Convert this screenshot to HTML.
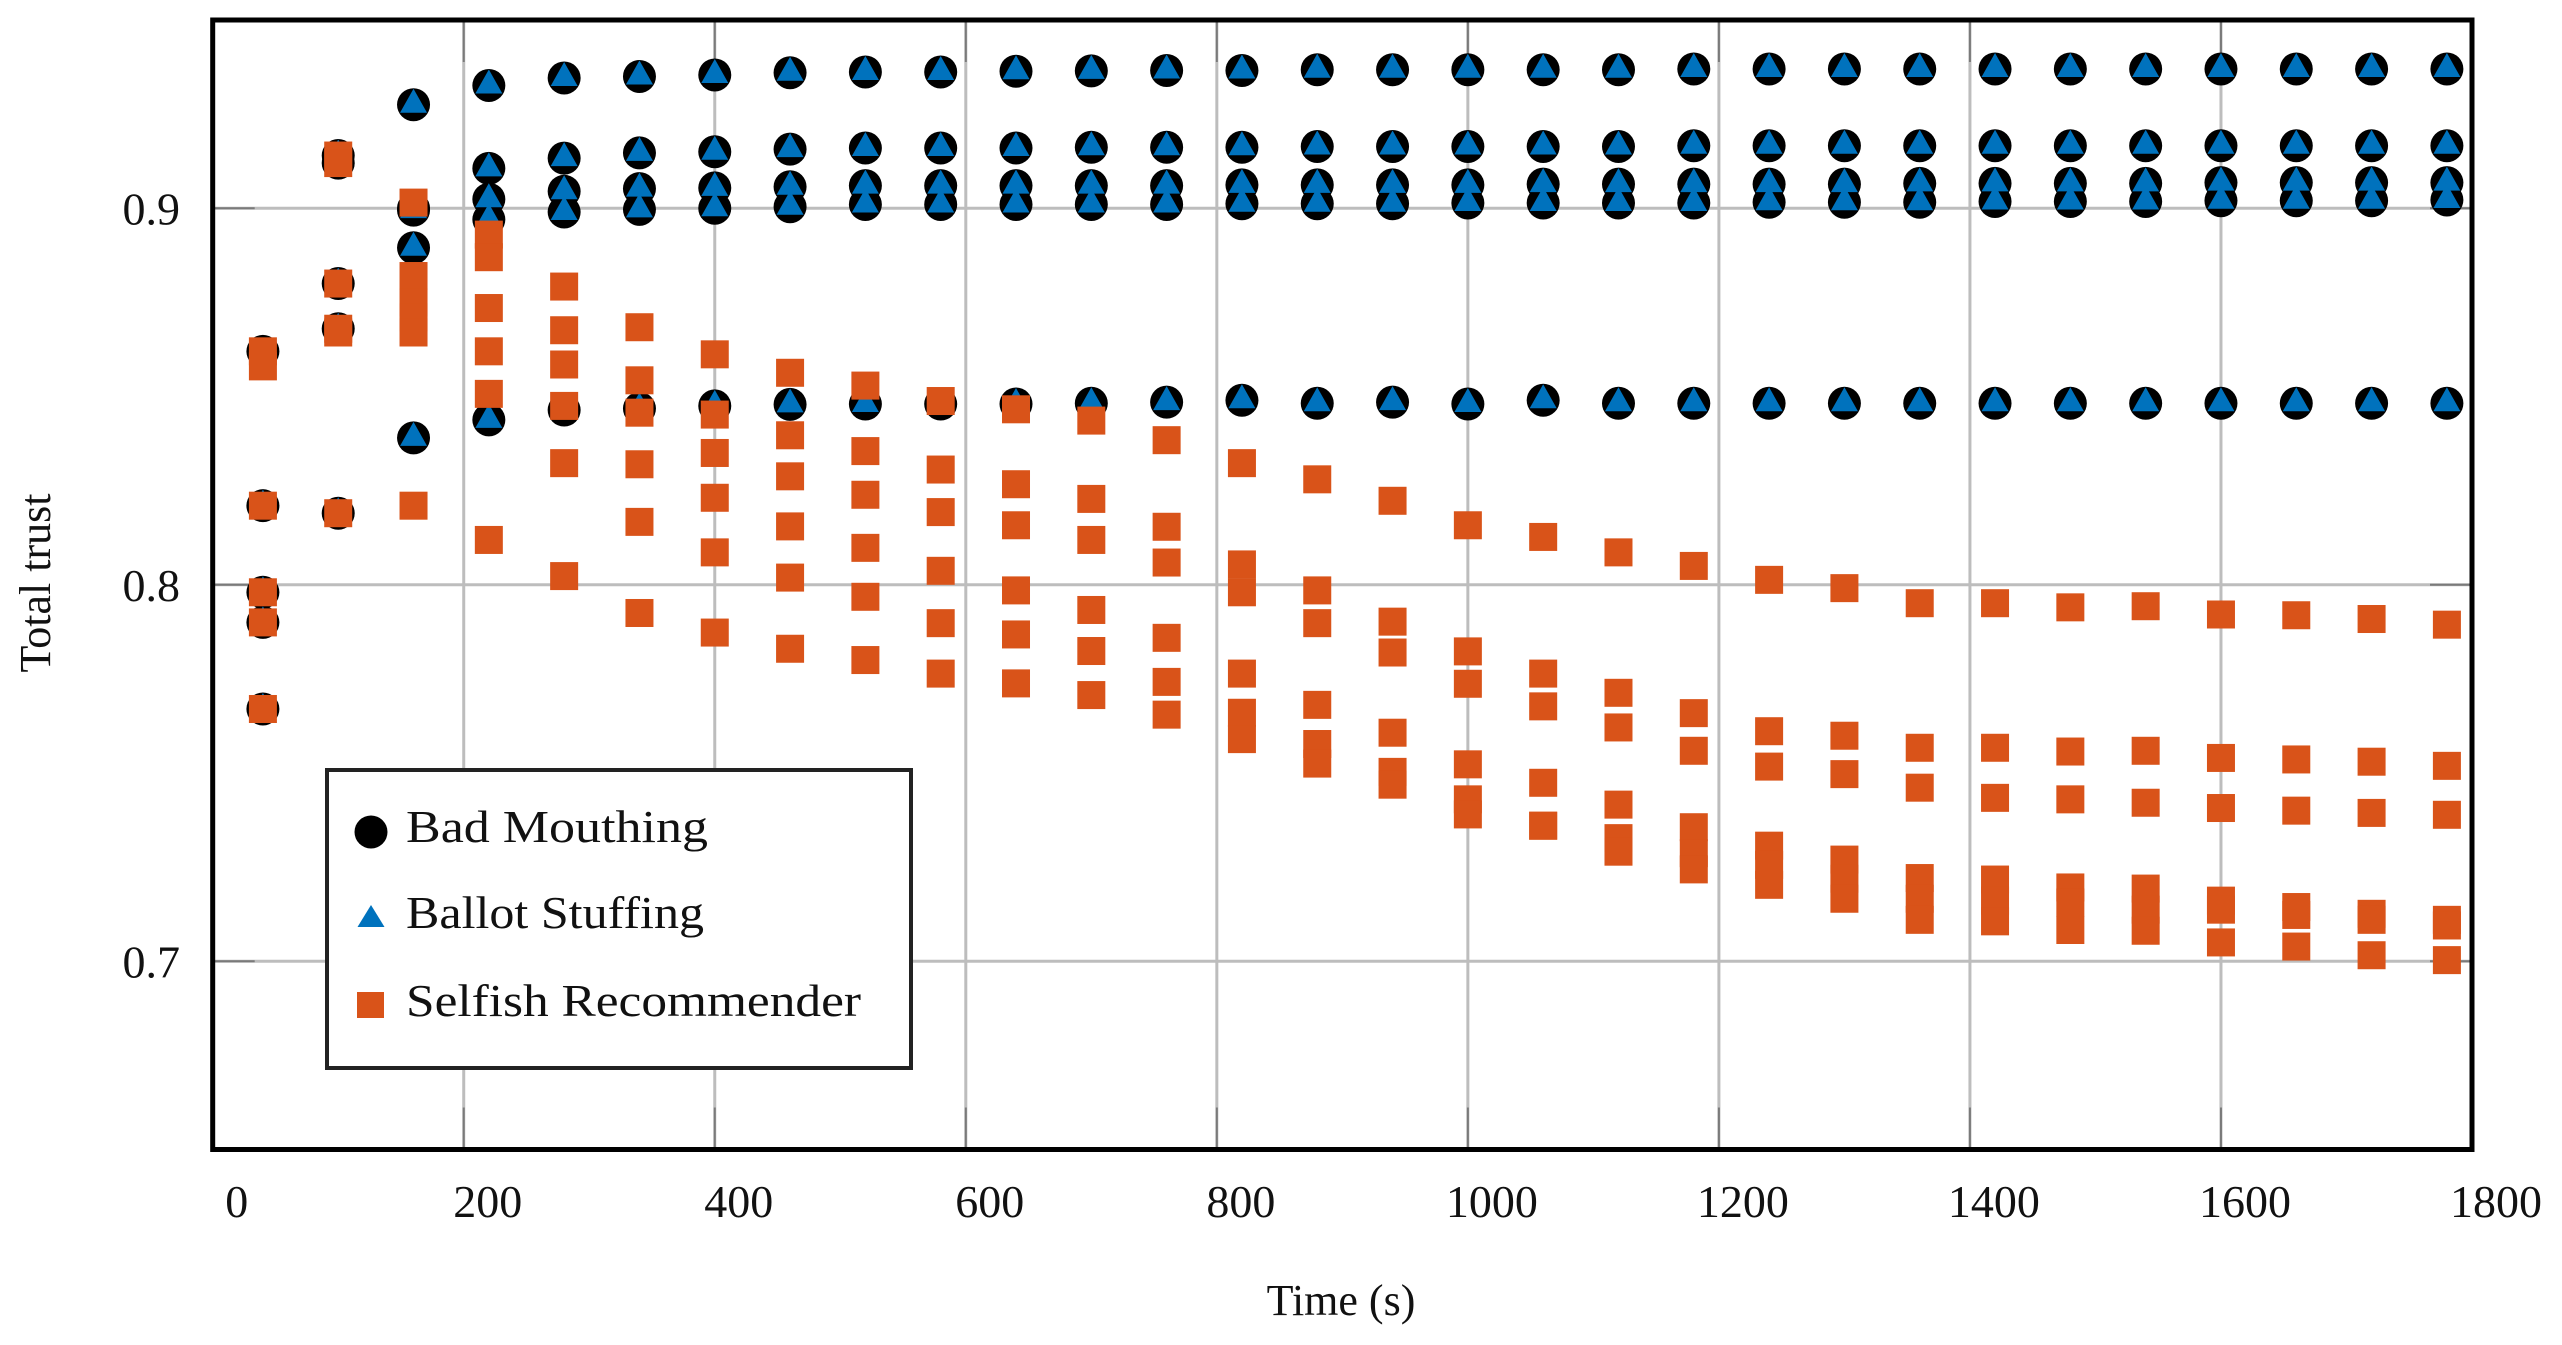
<!DOCTYPE html>
<html><head><meta charset="utf-8"><style>
html,body{margin:0;padding:0;background:#fff;}
svg{display:block;}
text{font-family:"Liberation Serif",serif;fill:#111;}
</style></head><body>
<svg id="chart" width="2562" height="1345" viewBox="0 0 2562 1345" xmlns="http://www.w3.org/2000/svg">
<g id="grid"></g>
<g id="ticks"></g>
<g id="marks"></g>
<rect x="212.7" y="20" width="2259.3" height="1129.5" fill="none" stroke="#000" stroke-width="5"/>
<g id="labels"></g>
<text x="1341" y="1315" font-size="44" text-anchor="middle">Time (s)</text>
<text x="0" y="0" font-size="44" text-anchor="middle" transform="translate(50,583) rotate(-90)">Total trust</text>
<g>
<rect x="327" y="770" width="584" height="298" fill="#fff" stroke="#222" stroke-width="4"/>
<g>
<circle cx="371" cy="832" r="16.5" fill="#000"/>
<text x="406" y="842" font-size="46" textLength="302" lengthAdjust="spacingAndGlyphs">Bad Mouthing</text></g>
<g>
<polygon points="371,905 357.5,927 384.5,927" fill="#0072BD"/>
<text x="406" y="928" font-size="46" textLength="298" lengthAdjust="spacingAndGlyphs">Ballot Stuffing</text></g>
<g>
<rect x="357" y="992" width="27" height="26" fill="#D95319"/>
<text x="406" y="1016" font-size="46" textLength="455" lengthAdjust="spacingAndGlyphs">Selfish Recommender</text></g>
</g>
</svg>
<script>
const times = [40,100,160,220,280,340,400,460,520,580,640,700,760,820,880,940,1000,1060,1120,1180,1240,1300,1360,1420,1480,1540,1600,1660,1720,1780];
const xTicks = [0,200,400,600,800,1000,1200,1400,1600,1800];
const yTicks = [0.7,0.8,0.9];
const yTickLabels = ["0.7","0.8","0.9"];
const badMouthing = [
[0.862,0.821,0.798,0.790,0.767],[0.914,0.912,0.880,0.868,0.819],[0.9275,0.900,0.8995,0.8895,0.839],
[0.9326,0.9106,0.9024,0.897,0.8438],[0.9346,0.9133,0.9045,0.899,0.8464],[0.935,0.9147,0.9052,0.8997,0.8468],
[0.9354,0.915,0.9054,0.900,0.8475],[0.936,0.9157,0.9057,0.9004,0.8479],[0.9362,0.916,0.906,0.901,0.848],
[0.9362,0.916,0.906,0.901,0.848],[0.9364,0.916,0.906,0.901,0.848],[0.9365,0.9162,0.906,0.901,0.8482],
[0.9366,0.9162,0.906,0.901,0.8485],[0.9366,0.9162,0.9062,0.9012,0.849],[0.9368,0.9164,0.9062,0.9012,0.8482],
[0.9368,0.9164,0.9062,0.9012,0.8485],[0.9368,0.9164,0.9062,0.9014,0.848],[0.9368,0.9164,0.9064,0.9014,0.849],
[0.9368,0.9164,0.9064,0.9014,0.8482],[0.937,0.9166,0.9064,0.9014,0.8482],[0.937,0.9166,0.9064,0.9016,0.8482],
[0.937,0.9166,0.9064,0.9016,0.8482],[0.937,0.9166,0.9066,0.9016,0.8482],[0.937,0.9166,0.9066,0.9018,0.8482],
[0.937,0.9166,0.9066,0.9018,0.8482],[0.937,0.9166,0.9066,0.9018,0.8482],[0.937,0.9166,0.9068,0.902,0.8482],
[0.937,0.9166,0.9068,0.902,0.8482],[0.937,0.9166,0.9068,0.902,0.8482],[0.937,0.9166,0.9068,0.9022,0.8482]];
const ballotStuffing = [
[0.858,0.821,0.798,0.790,0.767],[0.914,0.912,0.880,0.868,0.819],[0.9275,0.900,0.8995,0.8895,0.839],
[0.9326,0.9106,0.9024,0.897,0.8438],[0.9346,0.9133,0.9045,0.899,0.8464],[0.935,0.9147,0.9052,0.8997,0.8468],
[0.9354,0.915,0.9054,0.900,0.8475],[0.936,0.9157,0.9057,0.9004,0.8479],[0.9362,0.916,0.906,0.901,0.848],
[0.9362,0.916,0.906,0.901,0.848],[0.9364,0.916,0.906,0.901,0.848],[0.9365,0.9162,0.906,0.901,0.8482],
[0.9366,0.9162,0.906,0.901,0.8485],[0.9366,0.9162,0.9062,0.9012,0.849],[0.9368,0.9164,0.9062,0.9012,0.8482],
[0.9368,0.9164,0.9062,0.9012,0.8485],[0.9368,0.9164,0.9062,0.9014,0.848],[0.9368,0.9164,0.9064,0.9014,0.849],
[0.9368,0.9164,0.9064,0.9014,0.8482],[0.937,0.9166,0.9064,0.9014,0.8482],[0.937,0.9166,0.9064,0.9016,0.8482],
[0.937,0.9166,0.9064,0.9016,0.8482],[0.937,0.9166,0.9066,0.9016,0.8482],[0.937,0.9166,0.9066,0.9018,0.8482],
[0.937,0.9166,0.9066,0.9018,0.8482],[0.937,0.9166,0.9066,0.9018,0.8482],[0.937,0.9166,0.9068,0.902,0.8482],
[0.937,0.9166,0.9068,0.902,0.8482],[0.937,0.9166,0.9068,0.902,0.8482],[0.937,0.9166,0.9068,0.9022,0.8482]];
const selfishRecommender = [
[0.862,0.858,0.821,0.798,0.790,0.767],[0.914,0.912,0.880,0.868,0.867,0.819],[0.9015,0.882,0.875,0.871,0.867,0.821],
[0.893,0.887,0.8735,0.862,0.8507,0.8119],[0.8792,0.8676,0.8585,0.8475,0.8323,0.8023],[0.8684,0.8543,0.8457,0.832,0.8167,0.7925],
[0.8612,0.8452,0.835,0.8231,0.8086,0.7873],[0.8563,0.8397,0.8288,0.8155,0.8019,0.783],[0.8529,0.8355,0.8239,0.8098,0.7968,0.78],
[0.8488,0.8306,0.8193,0.8037,0.7898,0.7764],[0.8466,0.8267,0.8158,0.7985,0.7868,0.7738],[0.8436,0.8228,0.8119,0.7933,0.7824,0.7707],
[0.8384,0.8154,0.8059,0.7859,0.7742,0.7655],[0.8323,0.8054,0.798,0.7764,0.766,0.759],[0.828,0.7985,0.7898,0.7681,0.7577,0.7525],
[0.8223,0.7902,0.782,0.7607,0.7503,0.7469],[0.8158,0.7823,0.7737,0.7523,0.743,0.739],[0.8127,0.7764,0.7677,0.7474,0.736,0.736],
[0.8086,0.7713,0.7621,0.7416,0.7327,0.7291],[0.805,0.7659,0.7559,0.7356,0.7287,0.7244],[0.8013,0.7611,0.7517,0.7307,0.7256,0.7203],
[0.7991,0.7599,0.7497,0.727,0.7219,0.7166],[0.7951,0.7567,0.7461,0.7221,0.7166,0.711],[0.7951,0.7567,0.7434,0.7217,0.7161,0.7106],
[0.794,0.7557,0.743,0.7196,0.7156,0.7083],[0.7943,0.7559,0.7421,0.7193,0.7137,0.7081],[0.7921,0.754,0.7407,0.7161,0.7137,0.705],
[0.7919,0.7536,0.74,0.7144,0.7123,0.7039],[0.7909,0.753,0.7394,0.7126,0.711,0.7016],[0.7894,0.7519,0.7389,0.711,0.7095,0.7003]];

const NS = "http://www.w3.org/2000/svg";
const L = 212.7, R = 2472, T = 20, B = 1149.5;
const xMin = 0, xMax = 1800, yMin = 0.65, yMax = 0.95;
const xs = v => L + (v - xMin) / (xMax - xMin) * (R - L);
const ys = v => B - (v - yMin) / (yMax - yMin) * (B - T);
function mk(tag, attrs, parent) {
  const e = document.createElementNS(NS, tag);
  for (const k in attrs) e.setAttribute(k, attrs[k]);
  parent.appendChild(e);
  return e;
}
const grid = document.getElementById('grid');
const ticks = document.getElementById('ticks');
const labels = document.getElementById('labels');
const marks = document.getElementById('marks');
xTicks.forEach(v => {
  const x = xs(v);
  if (v > xMin && v < xMax) {
    const g = mk('line', {x1: x, x2: x, y1: T, y2: B, stroke: '#bdbdbd', 'stroke-width': 3}, grid);
    
    
    mk('line', {x1: x, x2: x, y1: T, y2: T + 42, stroke: '#7a7a7a', 'stroke-width': 2}, ticks);
    mk('line', {x1: x, x2: x, y1: B - 42, y2: B, stroke: '#7a7a7a', 'stroke-width': 2}, ticks);
  }
  const t = mk('text', {x: x + 24, y: 1217, 'font-size': 46, 'text-anchor': 'middle'}, labels);
  
  
  t.textContent = String(v);
});
yTicks.forEach((v, i) => {
  const y = ys(v);
  const g = mk('line', {x1: L, x2: R, y1: y, y2: y, stroke: '#bdbdbd', 'stroke-width': 3}, grid);
  
  
  mk('line', {x1: L, x2: L + 42, y1: y, y2: y, stroke: '#7a7a7a', 'stroke-width': 2}, ticks);
  mk('line', {x1: R - 42, x2: R, y1: y, y2: y, stroke: '#7a7a7a', 'stroke-width': 2}, ticks);
  const t = mk('text', {x: 180, y: y + 16, 'font-size': 46, 'text-anchor': 'end'}, labels);
  
  
  t.textContent = yTickLabels[i];
});
times.forEach((tm, i) => {
  const x = xs(tm);
  badMouthing[i].forEach(v => {
    const c = mk('circle', {cx: x, cy: ys(v), r: 16.5, fill: '#000'}, marks);
    
    
  });
});
times.forEach((tm, i) => {
  const x = xs(tm);
  ballotStuffing[i].forEach(v => {
    const y = ys(v);
    const p = mk('polygon', {points: `${x},${y-16} ${x-13.5},${y+8} ${x+13.5},${y+8}`, fill: '#0072BD'}, marks);
    
    
  });
});
times.forEach((tm, i) => {
  const x = xs(tm);
  selfishRecommender[i].forEach(v => {
    const r = mk('rect', {x: x - 14, y: ys(v) - 14, width: 28, height: 28, fill: '#D95319'}, marks);
    
    
  });
});
</script>
</body></html>
